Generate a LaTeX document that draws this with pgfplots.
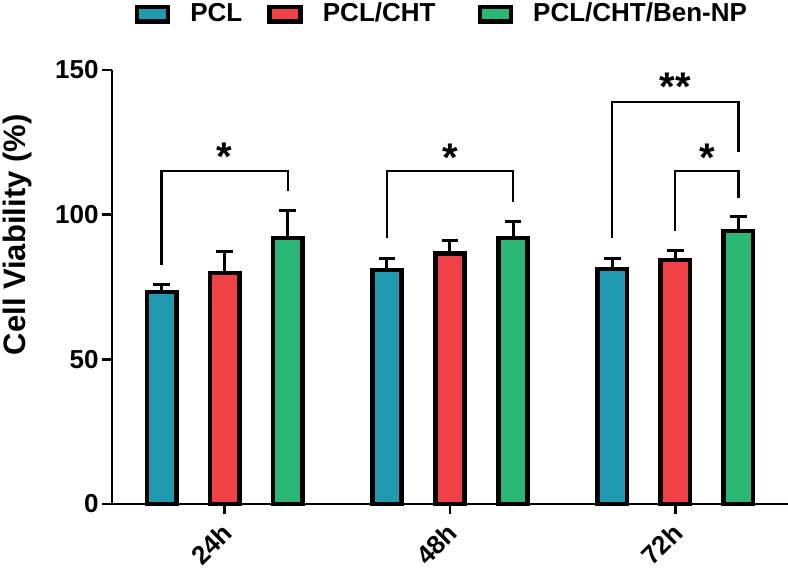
\documentclass[border=0pt]{standalone}
\usepackage{fontspec}
\setmainfont{Liberation Sans}
\usepackage{pgfplots}
\pgfplotsset{compat=1.18}
\definecolor{cblue}{HTML}{1F9AB0}
\definecolor{cred}{HTML}{EF4146}
\definecolor{cgreen}{HTML}{2BB673}
\begin{document}
\begin{tikzpicture}
\begin{axis}[
  width=338pt, height=217pt, scale only axis,
  xmin=0.5, xmax=3.5, ymin=0, ymax=150,
  axis x line=bottom, axis y line=left,
  axis line style={-, line width=1.4pt, black},
  xtick={1,2,3}, xticklabels={24h,48h,72h},
  ytick={0,50,100,150},
  tick style={line width=1.4pt, black},
  major tick length=5pt,
  tick align=outside,
  /pgf/number format/assume math mode=true,
  yticklabel style={font=\bfseries\fontsize{13}{13}\selectfont, inner sep=1.5pt},
  xticklabel style={font=\bfseries\fontsize{13}{13}\selectfont, rotate=45, anchor=north east, inner sep=1pt, xshift=-3pt},
  ylabel={Cell Viability (\%)},
  ylabel style={font=\bfseries\fontsize{15.5}{15.5}\selectfont, at={(axis description cs:-0.1405,0.62)}, anchor=center, rotate=0},
  clip=false,
  legend columns=3,
  legend style={at={(axis description cs:0.033,1.155)}, anchor=north west, draw=none, fill=none,
    font=\bfseries\fontsize{13}{13}\selectfont, inner sep=0pt,
    /tikz/every odd column/.append style={column sep=10pt},
    /tikz/column 2/.style={column sep=12.5pt},
    /tikz/column 4/.style={column sep=21pt},
    nodes={inner sep=0pt}},
  legend image code/.code={\draw[#1] (0pt,-3.6pt) rectangle (15.5pt,3.6pt);},
  error bars/error bar style={line width=1.5pt, black},
  error bars/error mark options={rotate=90, line width=1.5pt, black, mark size=4.2pt},
]
\addplot[ybar, bar width=0.13, bar shift=0pt, fill=cblue, draw=black, line width=2.3pt,
  error bars/.cd, y dir=plus, y explicit]
  coordinates {(0.72,73.3) +- (0,2.4) (1.72,80.9) +- (0,3.8) (2.72,81.2) +- (0,3.8)};
\addlegendentry{PCL}
\addplot[ybar, bar width=0.13, bar shift=0pt, fill=cred, draw=black, line width=2.3pt,
  error bars/.cd, y dir=plus, y explicit]
  coordinates {(1,79.8) +- (0,7.3) (2,86.6) +- (0,4.3) (3,84.3) +- (0,3.2)};
\addlegendentry{PCL/CHT}
\addplot[ybar, bar width=0.13, bar shift=0pt, fill=cgreen, draw=black, line width=2.3pt,
  error bars/.cd, y dir=plus, y explicit]
  coordinates {(1.28,91.9) +- (0,9.4) (2.28,91.9) +- (0,5.6) (3.28,94.4) +- (0,4.8)};
\addlegendentry{PCL/CHT/Ben-NP}
% significance brackets
\draw[line width=1.1pt] (axis cs:0.72,82.6) |- (axis cs:1.28,115) -- (axis cs:1.28,108.2);
\draw[line width=1.1pt] (axis cs:1.72,91.9) |- (axis cs:2.28,115) -- (axis cs:2.28,104.4);
\draw[line width=1.1pt] (axis cs:2.72,91.9) |- (axis cs:3.28,139) -- (axis cs:3.28,121.7);
\draw[line width=1.1pt] (axis cs:3.0,94.4) |- (axis cs:3.28,115) -- (axis cs:3.28,105.8);
\node[font=\bfseries\fontsize{20}{20}\selectfont, inner sep=0pt, anchor=north] at (axis cs:1,125) {*};
\node[font=\bfseries\fontsize{20}{20}\selectfont, inner sep=0pt, anchor=north] at (axis cs:2,124.5) {*};
\node[font=\bfseries\fontsize{20}{20}\selectfont, inner sep=0pt, anchor=north] at (axis cs:3.14,124.5) {*};
\node[font=\bfseries\fontsize{20}{20}\selectfont, inner sep=0pt, anchor=north] at (axis cs:3.0,149) {**};
\end{axis}
\pgfresetboundingbox
\path (-56pt,-34pt) rectangle (338pt,252pt);
\end{tikzpicture}
\end{document}
